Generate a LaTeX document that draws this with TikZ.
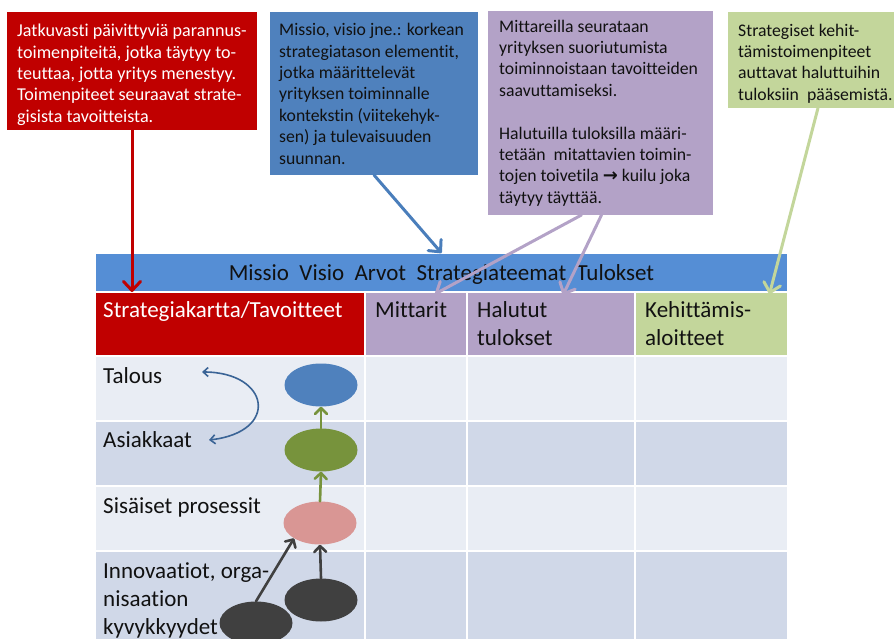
\documentclass[tikz,border=0pt]{standalone}
\usepackage{fontspec}
\setmainfont{Carlito}[Ligatures={NoCommon}]
\newfontfamily\symbolfont{DejaVu Sans Bold}
\usetikzlibrary{arrows.meta,shapes.geometric}

\definecolor{kpired}{HTML}{C00000}
\definecolor{barblue}{HTML}{558ED5}
\definecolor{boxblue}{HTML}{4F81BD}
\definecolor{arrowblue}{HTML}{4A7EBB}
\definecolor{boxpurple}{HTML}{B3A2C7}
\definecolor{boxgreen}{HTML}{C3D69B}
\definecolor{rowlight}{HTML}{E9EDF4}
\definecolor{rowdark}{HTML}{D0D8E8}
\definecolor{ovalblue}{HTML}{4F81BD}
\definecolor{ovalgreen}{HTML}{77933C}
\definecolor{ovalpink}{HTML}{D99694}
\definecolor{ovaldark}{HTML}{404040}
\definecolor{curveblue}{HTML}{3A6496}
\definecolor{inkdark}{HTML}{111111}

\begin{document}
\begin{tikzpicture}[x=1pt,y=-1pt,
  panel/.style={rectangle, draw=none, inner sep=0, outer sep=0, anchor=north west},
  cell/.style={rectangle, draw=white, line width=1.6pt, inner sep=0, outer sep=0, anchor=north west},
  calltxt/.style={anchor=north west, inner sep=0, align=left, text=inkdark,
    font=\fontsize{17.7}{21.4}\selectfont},
  tabtxt/.style={anchor=north west, inner sep=0, align=left, text=inkdark,
    font=\fontsize{23}{28}\selectfont},
  oval/.style={ellipse, draw=none, inner sep=0, minimum width=73pt, minimum height=43pt},
  leadarrow/.style={line width=3pt, line cap=round,
    -{Straight Barb[length=9pt,width=17pt,round]}},
  maparrow/.style={line width=2.6pt, line cap=round,
    -{Straight Barb[length=6pt,width=12pt,round]}},
]
\useasboundingbox (0,0) rectangle (894,639);

% ---- header bar and column heads
\node[cell, fill=barblue, minimum width=693pt, minimum height=39pt] (bar) at (95,253) {};
\node[cell, fill=kpired, minimum width=270pt, minimum height=64pt] (hdr1) at (95,292) {};
\node[cell, fill=boxpurple, minimum width=102pt, minimum height=64pt] (hdr2) at (365,292) {};
\node[cell, fill=boxpurple, minimum width=168pt, minimum height=64pt] (hdr3) at (467,292) {};
\node[cell, fill=boxgreen, minimum width=153pt, minimum height=64pt] (hdr4) at (635,292) {};

% ---- body rows
\foreach \y/\h/\col [count=\i] in {356/65/rowlight, 421/65/rowdark, 486/65/rowlight, 551/110/rowdark}{
  \foreach \x/\w [count=\j] in {95/270, 365/102, 467/168, 635/153}{
    \node[cell, fill=\col, minimum width=\w pt, minimum height=\h pt] (r\i-\j) at (\x,\y) {};
  }
}

% ---- texts of the table
\node[anchor=base, inner sep=0, text=inkdark, font=\fontsize{23}{28}\selectfont] (bartext)
  at (441.5,280) {Missio~~Visio~~Arvot~~Strategiateemat~~Tulokset};
\node[tabtxt, text=white] (hdr1text) at (103,297.4) {\strut Strategiakartta/Tavoitteet};
\node[tabtxt] (hdr2text) at (375,297.4) {\strut Mittarit};
\node[tabtxt] (hdr3text) at (477,297.4) {\strut Halutut\\tulokset};
\node[tabtxt] (hdr4text) at (645,297.4) {\strut Kehittämis-\\aloitteet};

\node[tabtxt] (talous) at (103,363.4) {\strut Talous};
\node[tabtxt] (asiakkaat) at (103,427.4) {\strut Asiakkaat};
\node[tabtxt] (prosessit) at (103,493.4) {\strut Sisäiset prosessit};
\node[tabtxt] (innovaatiot) at (103,558.4) {\strut Innovaatiot, orga-\\nisaation\\kyvykkyydet};

% ---- strategy map ovals
\node[oval, fill=ovalblue] (oval1) at (321,385) {};
\node[oval, fill=ovalgreen] (oval2) at (321,450) {};
\node[oval, fill=ovalpink] (oval3) at (320,523) {};
\node[oval, fill=ovaldark] (oval4) at (321,600) {};
\node[oval, fill=ovaldark] (oval5) at (256,623) {};

\draw[maparrow, ovalgreen] (oval2.north) -- (oval1.south);
\draw[maparrow, ovalgreen] (oval3.north) -- (oval2.south);
\draw[maparrow, ovaldark] (oval4.north) -- (oval3.south);
\draw[maparrow, ovaldark] (oval5.north) -- (oval3.south west);

% two-way link between the finance and customer perspectives
\coordinate (talousend) at (202,372);
\coordinate (asiakkaatend) at (209,440);
\draw[line width=1.6pt, curveblue,
  {Straight Barb[length=5pt,width=9pt]}-{Straight Barb[length=5pt,width=9pt]}]
  (talousend) .. controls (270,372) and (280,432) .. (asiakkaatend);

% ---- callout boxes
\node[panel, fill=kpired, minimum width=250pt, minimum height=118pt] (redbox) at (7,12) {};
\node[panel, fill=boxblue, minimum width=208pt, minimum height=163pt] (bluebox) at (270,12) {};
\node[panel, fill=boxpurple, minimum width=225pt, minimum height=204pt] (purplebox) at (488,11) {};
\node[panel, fill=boxgreen, minimum width=180pt, minimum height=96pt] (greenbox) at (728,12) {};

\node[calltxt, text=white, font=\fontsize{18.1}{21.4}\selectfont] (redtext) at (17,21.5)
  {\strut Jatkuvasti päivittyviä parannus-\\toimenpiteitä, jotka täytyy to-\\teuttaa, jotta yritys menestyy.\\Toimenpiteet seuraavat strate-\\gisista tavoitteista.};
\node[calltxt] (bluetext) at (279,20.5)
  {\strut Missio, visio jne.: korkean\\strategiatason elementit,\\jotka määrittelevät\\yrityksen toiminnalle\\kontekstin (viitekehyk-\\sen) ja tulevaisuuden\\suunnan.};
\node[calltxt] (purpletext) at (499,17)
  {\strut Mittareilla seurataan\\yrityksen suoriutumista\\toiminnoistaan tavoitteiden\\saavuttamiseksi.\\\strut\\Halutuilla tuloksilla määri-\\tetään~ mitattavien toimin-\\tojen toivetila {\symbolfont\fontsize{18}{21.4}\selectfont →} kuilu joka\\täytyy täyttää.};
\node[calltxt] (greentext) at (738,21)
  {\strut Strategiset kehit-\\tämistoimenpiteet\\auttavat haluttuihin\\tuloksiin~ pääsemistä.};

% ---- leader arrows from the callouts into the table
\draw[leadarrow, kpired] (redbox.south) -- (redbox.south |- hdr1.north);
\draw[leadarrow, arrowblue] (bluebox.south) -- (bar.north);
\draw[leadarrow, boxpurple] ([xshift=-19pt]purplebox.south) -- ([xshift=19pt, yshift=-2pt]hdr2.north);
\draw[leadarrow, boxpurple] ([xshift=1pt]purplebox.south) -- ([xshift=12pt, yshift=-3pt]hdr3.north);
\draw[leadarrow, boxgreen] (greenbox.south) -- ([xshift=58pt, yshift=-2pt]hdr4.north);
\end{tikzpicture}
\end{document}
